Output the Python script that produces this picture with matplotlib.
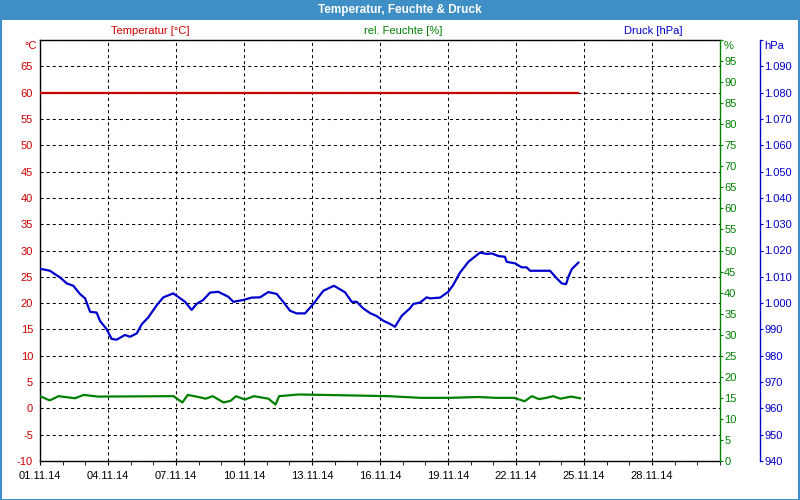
import matplotlib
matplotlib.use("Agg")
import matplotlib.pyplot as plt
import matplotlib.dates as mdates
from matplotlib.ticker import MultipleLocator, FixedLocator, FuncFormatter
from matplotlib.patches import Rectangle
import pandas as pd
import numpy as np

plt.rcParams['font.family'] = ['Liberation Sans', 'DejaVu Sans']
plt.rcParams['lines.scale_dashes'] = False

# ---------------- data ----------------
start_date = "2014-11-01"
end_date = "2014-12-01"
x_tick_labels = ["01.11.14", "04.11.14", "07.11.14", "10.11.14", "13.11.14",
                 "16.11.14", "19.11.14", "22.11.14", "25.11.14", "28.11.14"]

temp_days = [0.0, 23.75]
temp_c = [60, 60]

humidity_days = [0.04, 0.43, 0.82, 1.54, 1.93, 2.56, 5.89, 6.28, 6.52, 6.99, 7.31,
                 7.62, 8.10, 8.41, 8.65, 9.04, 9.44, 10.08, 10.39, 10.55, 11.42,
                 13.47, 15.37, 16.80, 18.06, 19.32, 20.12, 20.91, 21.38, 21.70,
                 22.01, 22.33, 22.64, 22.96, 23.43, 23.83]
humidity_pct = [15.3, 14.4, 15.4, 14.9, 15.7, 15.3, 15.4, 13.9, 15.7, 15.2, 14.8,
                15.4, 13.9, 14.3, 15.4, 14.6, 15.4, 14.8, 13.4, 15.4, 15.8,
                15.6, 15.4, 15.0, 15.0, 15.2, 15.0, 15.0, 14.2, 15.4,
                14.7, 15.0, 15.4, 14.8, 15.3, 14.9]

pressure_days = [0.04, 0.44, 0.66, 0.88, 1.18, 1.47, 1.76, 1.99, 2.21, 2.50, 2.65,
                 2.94, 3.16, 3.38, 3.75, 3.97, 4.27, 4.49, 4.78, 5.15, 5.44, 5.88,
                 6.40, 6.69, 6.91, 7.20, 7.50, 7.87, 8.31, 8.53, 8.97, 9.34, 9.71,
                 10.07, 10.44, 10.73, 11.03, 11.32, 11.69, 12.06, 12.50, 12.97,
                 13.46, 13.75, 13.97, 14.26, 14.56, 14.85, 15.15, 15.44, 15.66,
                 15.96, 16.32, 16.47, 16.76, 17.06, 17.21, 17.65, 18.01, 18.23,
                 18.53, 18.90, 19.41, 19.71, 19.93, 20.22, 20.51, 20.59, 20.96,
                 21.25, 21.47, 21.62, 21.91, 22.50, 22.80, 23.02, 23.21, 23.31,
                 23.46, 23.75]
pressure_hpa = [1013.0, 1012.3, 1011.0, 1009.8, 1007.5, 1006.6, 1003.5, 1001.8,
                996.7, 996.4, 993.2, 990.1, 986.4, 986.1, 987.9, 987.2, 988.5,
                992.0, 994.6, 999.2, 1002.2, 1003.7, 1000.5, 997.4, 999.7, 1001.2,
                1004.0, 1004.3, 1002.4, 1000.5, 1001.2, 1002.1, 1002.2, 1004.2,
                1003.5, 1000.5, 997.1, 996.1, 996.1, 999.7, 1004.7, 1006.6,
                1004.1, 1000.5, 1000.5, 998.0, 996.2, 995.1, 993.3, 992.1, 991.0,
                995.2, 998.0, 999.7, 1000.2, 1002.2, 1001.8, 1002.1, 1004.3,
                1006.9, 1011.6, 1015.7, 1019.2, 1018.7, 1018.9, 1017.9, 1017.6,
                1015.7, 1015.1, 1013.6, 1013.6, 1012.3, 1012.3, 1012.3, 1009.4,
                1007.5, 1007.2, 1010.0, 1012.9, 1015.4]

title = "Temperatur, Feuchte & Druck"
series_labels = ["Temperatur [°C]", "rel. Feuchte [%]", "Druck [hPa]"]
unit_labels = ["°C", "%", "hPa"]

# ---------------- styling ----------------
RED = "#CC0000"
GREEN = "#008000"
BLUE = "#0000CC"
TITLE_BG = "#3F8FC7"

def to_dates(days):
    return pd.Timestamp(start_date) + pd.to_timedelta(np.asarray(days), unit="D")

W, H = 800, 500
fig = plt.figure(figsize=(8, 5), dpi=100, facecolor="white")

# title bar + border
fig.patches.append(Rectangle((0, 1 - 20 / H), 1, 20 / H, transform=fig.transFigure,
                             facecolor=TITLE_BG, edgecolor="none", zorder=0))
fig.patches.append(Rectangle((0.5 / W, 0.5 / H), 1 - 1.5 / W, 1 - 1.5 / H,
                             transform=fig.transFigure, facecolor="none",
                             edgecolor=TITLE_BG, linewidth=1.5, zorder=0))
fig.text(0.5, 1 - 10 / H, title, ha="center", va="center", color="white",
         fontsize=8.5, fontweight="bold")

left, right, top, bottom = 40, 720, 40, 461
ax = fig.add_axes([left / W, (H - bottom) / H, (right - left) / W, (bottom - top) / H])
ax.set_facecolor("white")

# temperature (left axis)
ax.plot(to_dates(temp_days), temp_c, color=RED, linewidth=1.6, zorder=3)
ax.set_ylim(-10, 70)
ax.set_xlim(pd.Timestamp(start_date), pd.Timestamp(end_date))
ax.yaxis.set_major_locator(MultipleLocator(5))
ax.yaxis.set_major_formatter(FuncFormatter(lambda v, p: "" if v > 66 else f"{v:.0f}"))
ax.tick_params(axis="y", length=0, pad=5, labelcolor=RED, labelsize=8)

tick_dates = list(pd.to_datetime(x_tick_labels, format="%d.%m.%y"))
ax.set_xticks(tick_dates)
ax.set_xticklabels(x_tick_labels)
ax.xaxis.set_minor_locator(mdates.DayLocator())
ax.tick_params(axis="x", which="both", length=3, direction="out", pad=4, labelsize=8,
               color="black")
ax.grid(True, which="major", color="black", linewidth=0.75, linestyle=(0, (2.2, 2.2)))
ax.set_axisbelow(True)
ax.spines["right"].set_visible(False)
for s in ["left", "top", "bottom"]:
    ax.spines[s].set_linewidth(1.0)

# humidity (right axis)
ax2 = ax.twinx()
ax2.plot(to_dates(humidity_days), humidity_pct, color=GREEN, linewidth=1.6)
ax2.set_ylim(0, 100)
ax2.yaxis.set_major_locator(MultipleLocator(5))
ax2.yaxis.set_major_formatter(FuncFormatter(lambda v, p: "" if v > 96 else f"{v:.0f}"))
ax2.tick_params(axis="y", length=2, pad=1, colors=GREEN, labelsize=8)
for s in ["left", "top", "bottom"]:
    ax2.spines[s].set_visible(False)
ax2.spines["right"].set_color(GREEN)
ax2.spines["right"].set_linewidth(1.0)

# pressure (outer right axis)
ax3 = ax.twinx()
ax3.plot(to_dates(pressure_days), pressure_hpa, color=BLUE, linewidth=1.6)
ax3.set_ylim(940, 1100)
ax3.yaxis.set_major_locator(MultipleLocator(10))

def fmt_p(v, p):
    if v > 1095:
        return ""
    return f"{v:,.0f}".replace(",", ".")

ax3.yaxis.set_major_formatter(FuncFormatter(fmt_p))
ax3.spines["right"].set_position(("outward", 40 * 72 / 100))
ax3.tick_params(axis="y", length=2, pad=1, colors=BLUE, labelsize=8)
for s in ["left", "top", "bottom"]:
    ax3.spines[s].set_visible(False)
ax3.spines["right"].set_color(BLUE)
ax3.spines["right"].set_linewidth(1.0)

# unit labels at top of each axis
fig.text(37 / W, 1 - 46 / H, unit_labels[0], ha="right", va="center", color=RED, fontsize=8)
fig.text(724 / W, 1 - 46 / H, unit_labels[1], ha="left", va="center", color=GREEN, fontsize=8)
fig.text(764 / W, 1 - 46 / H, unit_labels[2], ha="left", va="center", color=BLUE, fontsize=8)

# series labels above plot
fig.text(150 / W, 1 - 31 / H, series_labels[0], ha="center", va="center", color=RED, fontsize=8)
fig.text(403 / W, 1 - 31 / H, series_labels[1], ha="center", va="center", color=GREEN, fontsize=8)
fig.text(653 / W, 1 - 31 / H, series_labels[2], ha="center", va="center", color=BLUE, fontsize=8)

fig.savefig("out.png", dpi=100, facecolor=fig.get_facecolor())
